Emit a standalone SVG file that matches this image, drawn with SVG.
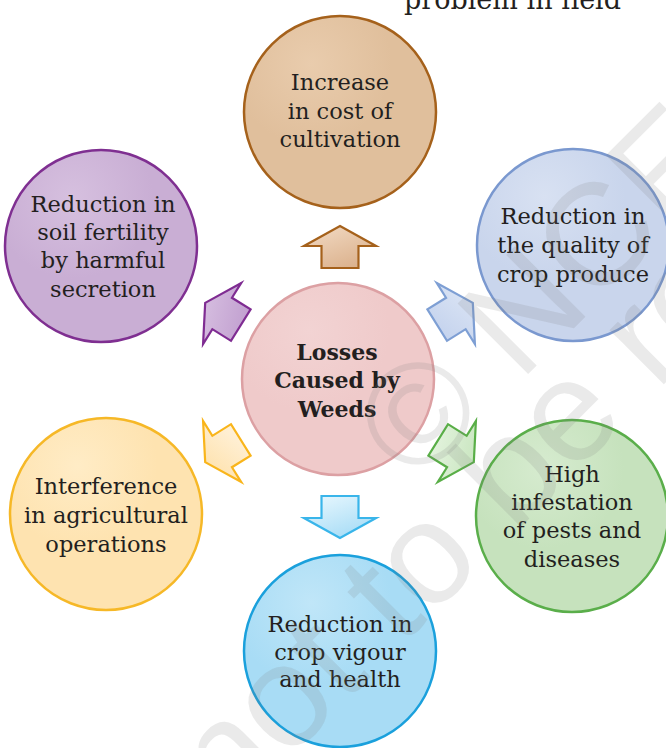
<svg xmlns="http://www.w3.org/2000/svg" width="666" height="748" viewBox="0 0 666 748">
<style>
.lbl{font-family:"DejaVu Serif","Liberation Serif",serif;font-size:22.5px;fill:#231f20;text-anchor:middle}
.bold{font-weight:bold;font-size:22px}
.node circle{stroke-width:2.5}
.arr{stroke-width:2.2;stroke-linejoin:miter}
.wm{font-family:"Liberation Sans",Arial,sans-serif;font-size:145px;fill:#7f7f7f;fill-opacity:0.16}
</style>
<defs>
<path id="arrow" d="M0,-21 L36,-1 L18.5,-1 L18.5,21 L-18.5,21 L-18.5,-1 L-36,-1 Z"/>
<radialGradient id="gTan" cx="0.35" cy="0.25" r="0.7"><stop offset="0" stop-color="#e9ccad"/><stop offset="0.6" stop-color="#e0bf9c"/></radialGradient>
<radialGradient id="gPur" cx="0.35" cy="0.25" r="0.7"><stop offset="0" stop-color="#d6c0df"/><stop offset="0.6" stop-color="#c9aed4"/></radialGradient>
<radialGradient id="gBlu" cx="0.35" cy="0.25" r="0.7"><stop offset="0" stop-color="#d8e1f2"/><stop offset="0.6" stop-color="#c9d5ec"/></radialGradient>
<radialGradient id="gPnk" cx="0.35" cy="0.25" r="0.7"><stop offset="0" stop-color="#f2d3d3"/><stop offset="0.6" stop-color="#efcaca"/></radialGradient>
<radialGradient id="gOrg" cx="0.35" cy="0.25" r="0.7"><stop offset="0" stop-color="#ffecc6"/><stop offset="0.6" stop-color="#fee3b0"/></radialGradient>
<radialGradient id="gGrn" cx="0.35" cy="0.25" r="0.7"><stop offset="0" stop-color="#d6ebcf"/><stop offset="0.6" stop-color="#c6e2bd"/></radialGradient>
<radialGradient id="gSky" cx="0.35" cy="0.25" r="0.7"><stop offset="0" stop-color="#c0e6f8"/><stop offset="0.6" stop-color="#a8dcf5"/></radialGradient>
<linearGradient id="aTan" x1="0" y1="0" x2="0.6" y2="1"><stop offset="0" stop-color="#f3dcc6"/><stop offset="1" stop-color="#dcb38f"/></linearGradient>
<linearGradient id="aPur" x1="0" y1="0" x2="0.6" y2="1"><stop offset="0" stop-color="#dac4e3"/><stop offset="1" stop-color="#c3a2d1"/></linearGradient>
<linearGradient id="aBlu" x1="0" y1="0" x2="0.6" y2="1"><stop offset="0" stop-color="#dde6f5"/><stop offset="1" stop-color="#c6d4ee"/></linearGradient>
<linearGradient id="aOrg" x1="0" y1="0" x2="0.6" y2="1"><stop offset="0" stop-color="#fee0a8"/><stop offset="1" stop-color="#fff0d6"/></linearGradient>
<linearGradient id="aGrn" x1="0" y1="0" x2="0.6" y2="1"><stop offset="0" stop-color="#c3e3b9"/><stop offset="1" stop-color="#e2f2dc"/></linearGradient>
<linearGradient id="aSky" x1="0" y1="0" x2="0.6" y2="1"><stop offset="0" stop-color="#9dd8f5"/><stop offset="1" stop-color="#e0f4fd"/></linearGradient>
</defs>
<rect width="666" height="748" fill="#ffffff"/>
<text x="404" y="9" style="font-family:'DejaVu Serif','Liberation Serif',serif;font-size:27px;fill:#231f20">problem in field</text>

<g id="n-cost" class="node">
<circle cx="340" cy="112" r="96" fill="url(#gTan)" stroke="#a5611b"/>
<text class="lbl" x="340" y="90">Increase</text>
<text class="lbl" x="340" y="118.5">in cost of</text>
<text class="lbl" x="340" y="147">cultivation</text>
</g>
<g id="n-soil" class="node">
<circle cx="101" cy="246" r="96" fill="url(#gPur)" stroke="#7f2f91"/>
<text class="lbl" x="103" y="212">Reduction in</text>
<text class="lbl" x="103" y="240">soil fertility</text>
<text class="lbl" x="103" y="268">by harmful</text>
<text class="lbl" x="103" y="297">secretion</text>
</g>
<g id="n-quality" class="node">
<circle cx="573" cy="245" r="96" fill="url(#gBlu)" stroke="#7a98cf"/>
<text class="lbl" x="573" y="224">Reduction in</text>
<text class="lbl" x="573" y="253">the quality of</text>
<text class="lbl" x="573" y="282">crop produce</text>
</g>
<g id="n-center" class="node">
<circle cx="338" cy="379" r="96" fill="url(#gPnk)" stroke="#dca0a3"/>
<text class="lbl bold" x="337" y="360">Losses</text>
<text class="lbl bold" x="337" y="388">Caused by</text>
<text class="lbl bold" x="337" y="417">Weeds</text>
</g>
<g id="n-interference" class="node">
<circle cx="106" cy="514" r="96" fill="url(#gOrg)" stroke="#f6b827"/>
<text class="lbl" x="106" y="494">Interference</text>
<text class="lbl" x="106" y="523">in agricultural</text>
<text class="lbl" x="106" y="552">operations</text>
</g>
<g id="n-pests" class="node">
<circle cx="572" cy="516" r="96" fill="url(#gGrn)" stroke="#5aae4a"/>
<text class="lbl" x="572" y="482">High</text>
<text class="lbl" x="572" y="510">infestation</text>
<text class="lbl" x="572" y="538">of pests and</text>
<text class="lbl" x="572" y="567">diseases</text>
</g>
<g id="n-vigour" class="node">
<circle cx="340" cy="651" r="96" fill="url(#gSky)" stroke="#1aa0dc"/>
<text class="lbl" x="340" y="632">Reduction in</text>
<text class="lbl" x="340" y="660">crop vigour</text>
<text class="lbl" x="340" y="687">and health</text>
</g>

<g id="connectors">
<use href="#arrow" class="arr" transform="translate(340,247)" fill="url(#aTan)" stroke="#a5611b"/>
<use href="#arrow" class="arr" transform="translate(223,314) rotate(-58)" fill="url(#aPur)" stroke="#7f2c92"/>
<use href="#arrow" class="arr" transform="translate(455,314) rotate(58)" fill="url(#aBlu)" stroke="#7e9fd4"/>
<use href="#arrow" class="arr" transform="translate(223,451) rotate(-122)" fill="url(#aOrg)" stroke="#f9b51b"/>
<use href="#arrow" class="arr" transform="translate(456,451) rotate(122)" fill="url(#aGrn)" stroke="#59ae47"/>
<use href="#arrow" class="arr" transform="translate(340,517) rotate(180)" fill="url(#aSky)" stroke="#39b5ea"/>
</g>

<g id="watermark" transform="rotate(-45)">
<text class="wm" x="-50" y="638">© NCERT</text>
<text class="wm" x="-417" y="741">not to be republished</text>
</g>
</svg>
